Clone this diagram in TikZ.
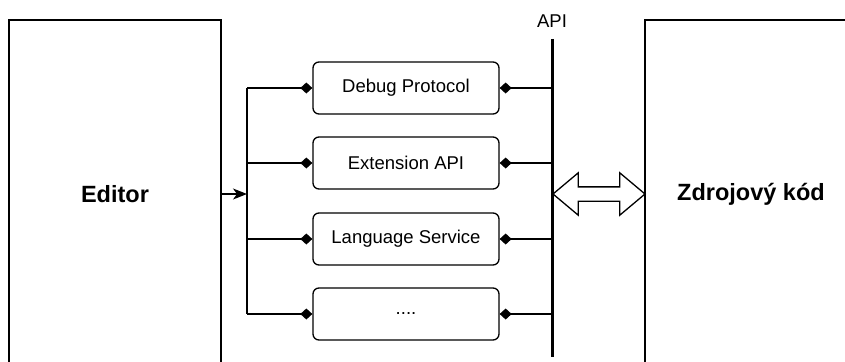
\documentclass[tikz,border=0pt]{standalone}
\usepackage{fontspec}
\setmainfont{Liberation Sans}
\usetikzlibrary{arrows.meta}
\usetikzlibrary{shapes.arrows}

\begin{document}
\begin{tikzpicture}
	[x=1pt,y=-1pt,line width=1.3pt,
	part/.style={draw,rounded corners=6pt,minimum width=186pt,minimum height=52pt,inner sep=0pt,font=\fontsize{18.5}{22}\selectfont},
	side/.style={draw,minimum width=212pt,minimum height=348pt,inner sep=0pt,font=\bfseries\fontsize{23.5}{28}\selectfont},
	plug/.style={-{Diamond[length=12pt,width=11pt]}}]
	\useasboundingbox (0,0) rectangle (845,361);
	\clip (0,0) rectangle (845,361);
	\node[side] (editor) at (115,194) {Editor};
	\node[side] (code) at (751,194) {Zdrojový kód};
	\node[part] (p1) at (406,88)  {Debug Protocol};
	\node[part] (p2) at (406,163) {Extension API};
	\node[part] (p3) at (406,239) {Language Service};
	\node[part] (p4) at (406,314) {....};
	
	% bus
	\coordinate (bustop) at (247,88);
	\coordinate (busbot) at (247,314);
	\coordinate (busin) at (247,194);
	\draw (bustop) -- (busbot);
	\draw[-{Stealth[length=14pt,width=11pt,inset=4pt]}] (editor.east) -- (busin);
	
	% API
	\coordinate (apitop) at (552,39);
	\coordinate (apibot) at (552,357);
	\draw[line width=3pt] (apitop) -- (apibot);
	\node[font=\fontsize{18.5}{22}\selectfont] (apilabel) at (552,21) {API};
	
	\foreach \p in {p1,p2,p3,p4}
	{
		\draw[plug] (bustop |- \p.west) -- (\p.west);
		\draw[plug] (apitop |- \p.east) -- (\p.east);
	}
	
	\node[double arrow,draw,fill=white,minimum height=92pt,inner xsep=0pt,inner ysep=6.5pt,
		double arrow head extend=14pt,double arrow tip angle=80] (swap) at (599,194) {};
\end{tikzpicture}
\end{document}
